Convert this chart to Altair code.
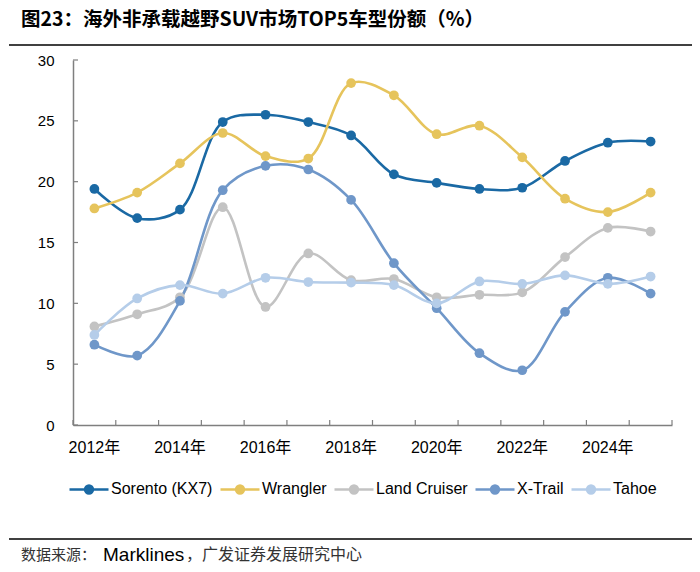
import altair as alt
import pandas as pd

years = [str(y) for y in range(2012, 2026)]
series_names = ["Sorento (KX7)", "Wrangler", "Land Cruiser", "X-Trail", "Tahoe"]
sorento = [19.4, 17.0, 17.7, 24.9, 25.5, 24.9, 23.8, 20.6, 19.9, 19.4, 19.5, 21.7, 23.2, 23.3]
wrangler = [17.8, 19.1, 21.5, 24.0, 22.1, 21.9, 28.1, 27.1, 23.9, 24.6, 22.0, 18.6, 17.5, 19.1]
land_cruiser = [8.1, 9.1, 10.5, 17.9, 9.7, 14.1, 11.9, 12.0, 10.5, 10.7, 10.9, 13.8, 16.2, 15.9]
x_trail = [6.6, 5.7, 10.2, 19.3, 21.3, 21.0, 18.5, 13.3, 9.6, 5.9, 4.5, 9.3, 12.1, 10.8]
tahoe = [7.4, 10.4, 11.5, 10.8, 12.1, 11.75, 11.7, 11.5, 10.0, 11.8, 11.6, 12.3, 11.6, 12.2]
colors = ["#1a69a4", "#e6c45c", "#c3c3c3", "#6f97c9", "#b5cde9"]
y_ticks = [0, 5, 10, 15, 20, 25, 30]

title_text = "图23：海外非承载越野SUV市场TOP5车型份额（%）"
source_a = "数据来源："
source_b = "Marklines"
source_c = "，广发证券发展研究中心"

all_series = [sorento, wrangler, land_cruiser, x_trail, tahoe]
rows = []
for name, vals in zip(series_names, all_series):
    for yr, v in zip(years, vals):
        rows.append({"year": yr, "series": name, "value": v})
df = pd.DataFrame(rows)

AX = "#7f7f7f"
W, H = 599, 365

x_scale = alt.Scale(type="band", paddingInner=0, paddingOuter=0)
x_axis = alt.Axis(
    title=None, labelAngle=0, ticks=False, tickSize=0, grid=False,
    bandPosition=0.5,
    domainColor=AX, domainWidth=1.5,
    labelExpr="parseInt(datum.value) % 2 == 0 ? datum.value + '年' : ''",
    labelFont="Liberation Sans, Noto Sans CJK SC", labelFontSize=16,
    labelColor="#000000", labelPadding=14, labelOverlap=False,
)
y_scale = alt.Scale(domain=[0, 30], nice=False, zero=True)
y_axis = alt.Axis(
    title=None, values=y_ticks, ticks=False, tickSize=0, grid=False,
    domainColor=AX, domainWidth=1.5,
    labelFont="Liberation Sans", labelFontSize=15, labelColor="#000000",
    labelPadding=19,
)

# line with a "filled" dot built from concentric circles
legend_symbol = (
    "M-1,0L1,0"
    "M-0.2,0a0.2,0.2 0 1,0 0.4,0a0.2,0.2 0 1,0 -0.4,0"
    "M-0.13,0a0.13,0.13 0 1,0 0.26,0a0.13,0.13 0 1,0 -0.26,0"
    "M-0.06,0a0.06,0.06 0 1,0 0.12,0a0.06,0.06 0 1,0 -0.12,0"
)

lines = alt.Chart(df).mark_line(
    interpolate="catmull-rom", strokeWidth=2.6,
    point=alt.OverlayMarkDef(filled=True, size=95, opacity=1),
).encode(
    x=alt.X("year:O", scale=x_scale, axis=x_axis, bandPosition=0.5),
    y=alt.Y("value:Q", scale=y_scale, axis=y_axis),
    color=alt.Color(
        "series:N",
        scale=alt.Scale(domain=series_names, range=colors),
        sort=series_names,
        legend=alt.Legend(
            title=None, orient="none", direction="horizontal",
            legendX=-5, legendY=408, padding=0,
            symbolType=legend_symbol, symbolSize=1521, symbolStrokeWidth=2.6,
            labelFont="Liberation Sans", labelFontSize=16, labelColor="#000000",
            labelOffset=1, columnPadding=2,
        ),
    ),
)

xt_df = pd.DataFrame({"year": years})
xticks = alt.Chart(xt_df).mark_rule(color=AX, strokeWidth=1.2).encode(
    x=alt.X("year:O", scale=x_scale, axis=x_axis, bandPosition=0),
    y=alt.value(H),
    y2=alt.value(H - 5),
)
xticks_end = alt.Chart(pd.DataFrame({"year": years[-1:]})).mark_rule(color=AX, strokeWidth=1.2).encode(
    x=alt.X("year:O", scale=x_scale, axis=x_axis, bandPosition=1),
    y=alt.value(H),
    y2=alt.value(H - 5),
)
yticks = alt.Chart(pd.DataFrame({"value": y_ticks})).mark_rule(color=AX, strokeWidth=1.2).encode(
    y=alt.Y("value:Q", scale=y_scale, axis=y_axis),
    x=alt.value(0),
    x2=alt.value(5),
)

one = pd.DataFrame({"t": [0]})
title = alt.Chart(pd.DataFrame({"t": [title_text]})).mark_text(
    align="left", baseline="middle", font="Noto Sans CJK SC", fontWeight="bold",
    fontSize=19.5, color="#000000",
).encode(text="t:N", x=alt.value(-52), y=alt.value(-40))
top_line = alt.Chart(one).mark_rule(color="#000000", strokeWidth=1.3).encode(
    x=alt.value(-64), x2=alt.value(619), y=alt.value(-15)
)
bottom_line = alt.Chart(one).mark_rule(color="#000000", strokeWidth=1.3).encode(
    x=alt.value(-64), x2=alt.value(619), y=alt.value(479)
)
src_a = alt.Chart(pd.DataFrame({"t": [source_a]})).mark_text(
    align="left", baseline="middle", font="Noto Sans CJK SC", fontSize=15, color="#333333",
).encode(text="t:N", x=alt.value(-52), y=alt.value(495))
src_b = alt.Chart(pd.DataFrame({"t": [source_b]})).mark_text(
    align="left", baseline="middle", font="Liberation Sans", fontSize=19, color="#000000",
).encode(text="t:N", x=alt.value(30), y=alt.value(495))
src_c = alt.Chart(pd.DataFrame({"t": [source_c]})).mark_text(
    align="left", baseline="middle", font="Noto Sans CJK SC", fontSize=16, color="#333333",
).encode(text="t:N", x=alt.value(113), y=alt.value(495))

chart = alt.layer(
    lines, xticks, xticks_end, yticks, title, top_line, bottom_line, src_a, src_b, src_c
).properties(
    width=W, height=H,
    autosize=alt.AutoSizeParams(type="none"),
    padding={"left": 65, "top": 52, "right": 20, "bottom": 140},
    background="#ffffff",
).configure_view(stroke=None)

chart.save("out.html", embed_options={"renderer": "svg", "actions": False})
